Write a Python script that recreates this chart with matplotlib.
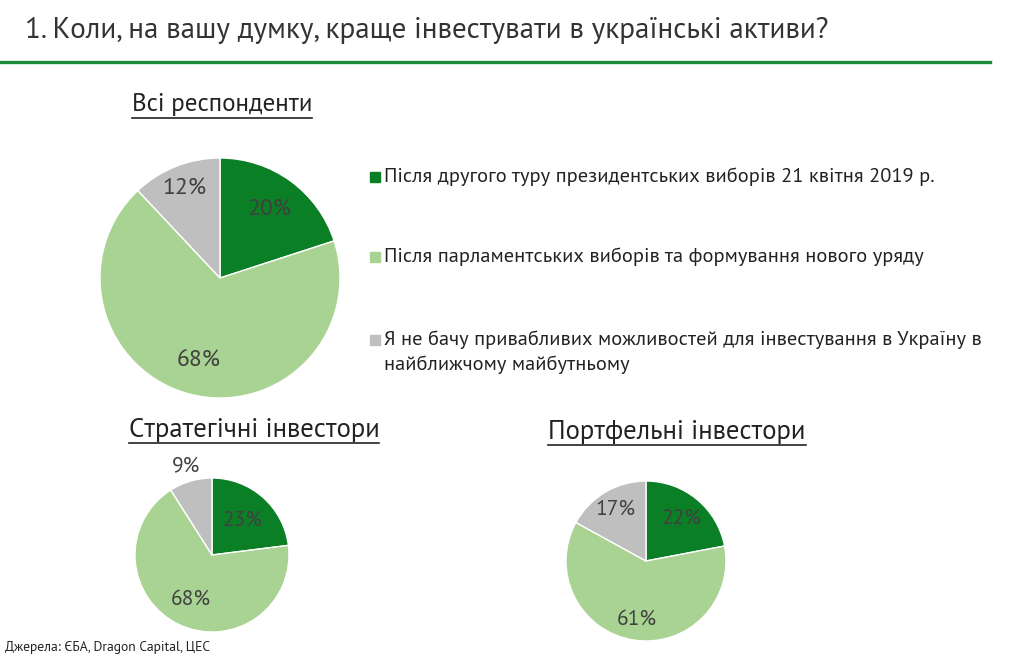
import matplotlib
matplotlib.use('Agg')
import matplotlib.pyplot as plt
from matplotlib.patches import Rectangle
from matplotlib.lines import Line2D
from matplotlib import font_manager
import numpy as np

title = '1. Коли, на вашу думку, краще інвестувати в українські активи?'
categories = ['Після другого туру президентських виборів 21 квітня 2019 р.',
              'Після парламентських виборів та формування нового уряду',
              'Я не бачу привабливих можливостей для інвестування в Україну в\nнайближчому майбутньому']
all_resp = [20, 68, 12]
strategic = [23, 68, 9]
portfolio = [22, 61, 17]
source = 'Джерела: ЄБА, Dragon Capital, ЦЕС'

colors = ['#0b7f26', '#a9d392', '#bfbfbf']
names = {f.name for f in font_manager.fontManager.ttflist}
font = 'DejaVu Sans'
for cand in ['PT Sans', 'PT Sans Narrow', 'Roboto Condensed']:
    if cand in names:
        font = cand
        break
plt.rcParams['font.family'] = [font, 'DejaVu Sans']

W, H = 1024, 661
fig = plt.figure(figsize=(W / 100, H / 100), dpi=100)
fig.patch.set_facecolor('white')


def px(x, y):
    return x / W, 1 - y / H


def draw_pie(cx, cy, r, values, dists, fs):
    ax = fig.add_axes([(cx - r) / W, (H - cy - r) / H, 2 * r / W, 2 * r / H])
    ax.pie(values, colors=colors, startangle=90, counterclock=False,
           radius=1, wedgeprops=dict(linewidth=1, edgecolor='white'))
    ang = 90.0
    for v, d in zip(values, dists):
        mid = np.deg2rad(ang - v * 3.6 / 2)
        ang -= v * 3.6
        ax.text(d * np.cos(mid), d * np.sin(mid), '%d%%' % v, ha='center', va='center',
                fontsize=fs, color='#404040')
    ax.set_xlim(-1, 1)
    ax.set_ylim(-1, 1)
    ax.set_aspect('equal')
    ax.axis('off')


draw_pie(220, 278, 120, all_resp, [0.7, 0.72, 0.8], 17)
draw_pie(212, 555, 77, strategic, [0.6, 0.64, 1.2], 15.5)
draw_pie(646, 561, 80, portfolio, [0.7, 0.74, 0.75], 15.5)

fig.text(*px(25, 30), title, fontsize=21, color='#333333', ha='left', va='center')
fig.add_artist(Line2D([0, 990 / W], [1 - 62 / H] * 2, color='#1f8a3d', lw=2.4))

heads = []
heads.append(fig.text(*px(222, 105), 'Всі респонденти', fontsize=18, color='#222222', ha='center', va='center'))
heads.append(fig.text(*px(254, 430), 'Стратегічні інвестори', fontsize=19.3, color='#222222', ha='center', va='center'))
heads.append(fig.text(*px(677, 432), 'Портфельні інвестори', fontsize=19.3, color='#222222', ha='center', va='center'))

leg_y = [177, 257, 340]
for c, lab, y in zip(colors, categories, leg_y):
    fig.add_artist(Rectangle(px(370, y + 5), 10 / W, 10 / H, color=c, transform=fig.transFigure))
    fig.text(*px(384, y - 10), lab, fontsize=14.7, color='#222222', ha='left', va='top', linespacing=1.45)

fig.text(*px(5, 648), source, fontsize=9.8, color='#222222', ha='left', va='center')

# underline the headings
fig.canvas.draw()
r = fig.canvas.get_renderer()
for t in heads:
    bb = t.get_window_extent(r)
    y = bb.y0 - 1
    fig.add_artist(Line2D([bb.x0 / W, bb.x1 / W], [y / H, y / H], color='#222222', lw=1.2))

fig.savefig('out.png', dpi=100)
